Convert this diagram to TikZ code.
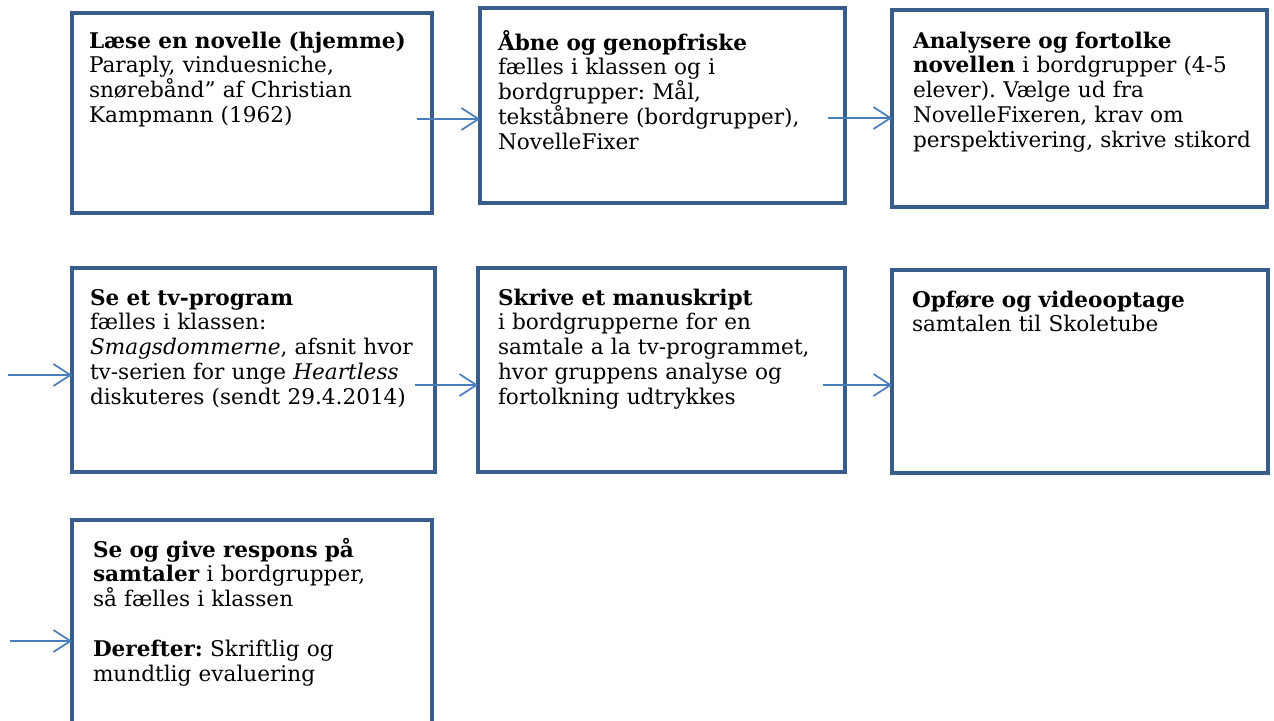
\documentclass[tikz,border=0pt]{standalone}
\usepackage{fontspec}
\setmainfont{DejaVu Serif}
\usetikzlibrary{arrows.meta}
\definecolor{boxblue}{HTML}{385D8A}
\definecolor{arrblue}{HTML}{4A7EBB}
\tikzset{
  x=1pt,y=-1pt,
  stepbox/.style={draw=boxblue,line width=4pt,fill=white,inner sep=0pt,outer sep=0pt,anchor=north west},
  txt/.style={anchor=base west,inner sep=0pt,outer sep=0pt,text width=420pt,align=left,
    font=\fontsize{21.6}{24.9}\selectfont\frenchspacing},
  arr/.style={draw=arrblue,line width=1.7pt,-{Straight Barb[length=17pt,width=22pt,line width=1.7pt]}}
}
\begin{document}
\begin{tikzpicture}
\useasboundingbox (0,0) rectangle (1274,720);
\clip (0,0) rectangle (1274,720);
% boxes
\node[stepbox,minimum width=360pt,minimum height=200pt] (b1) at (72,13) {};
\node[stepbox,minimum width=365pt,minimum height=195pt] (b2) at (480,8) {};
\node[stepbox,minimum width=375pt,minimum height=197pt] (b3) at (892,10) {};
\node[stepbox,minimum width=363pt,minimum height=204pt] (b4) at (72,268) {};
\node[stepbox,minimum width=367pt,minimum height=204pt] (b5) at (478,268) {};
\node[stepbox,minimum width=376pt,minimum height=203pt] (b6) at (892,270) {};
\node[stepbox,minimum width=360pt,minimum height=230pt] (b7) at (72,520) {};
% texts
\node[txt] (t1) at (89,48) {\textbf{Læse en novelle (hjemme)}\\
Paraply, vinduesniche,\\
snørebånd” af Christian\\
Kampmann (1962)};
\node[txt] (t2) at (498,50) {\textbf{Åbne og genopfriske}\\
fælles i klassen og i\\
bordgrupper: Mål,\\
tekståbnere (bordgrupper),\\
NovelleFixer};
\node[txt] (t3) at (913,48) {\textbf{Analysere og fortolke}\\
\textbf{novellen} i bordgrupper (4-5\\
elever). Vælge ud fra\\
NovelleFixeren, krav om\\
perspektivering, skrive stikord};
\node[txt] (t4) at (90,305) {\textbf{Se et tv-program}\\
fælles i klassen:\\
\textit{Smagsdommerne}, afsnit hvor\\
tv-serien for unge \textit{Heartless}\\
diskuteres (sendt 29.4.2014)};
\node[txt] (t5) at (498,305) {\textbf{Skrive et manuskript}\\
i bordgrupperne for en\\
samtale a la tv-programmet,\\
hvor gruppens analyse og\\
fortolkning udtrykkes};
\node[txt] (t6) at (912,307) {\textbf{Opføre og videooptage}\\
samtalen til Skoletube};
\node[txt] (t7) at (93,557) {\textbf{Se og give respons på}\\
\textbf{samtaler} i bordgrupper,\\
så fælles i klassen\\[24.9pt]
\textbf{Derefter:} Skriftlig og\\
mundtlig evaluering};
% arrow start points
\coordinate (a1) at (417,119);
\coordinate (a2) at (828,118);
\coordinate (a3) at (8,375);
\coordinate (a4) at (415,385);
\coordinate (a5) at (823,385);
\coordinate (a6) at (10,641);
% arrows
\draw[arr] (a1) -- (a1 -| b2.west);
\draw[arr] (a2) -- (a2 -| b3.west);
\draw[arr] (a3) -- (a3 -| b4.west);
\draw[arr] (a4) -- (a4 -| b5.west);
\draw[arr] (a5) -- (a5 -| b6.west);
\draw[arr] (a6) -- (a6 -| b7.west);
\end{tikzpicture}
\end{document}
